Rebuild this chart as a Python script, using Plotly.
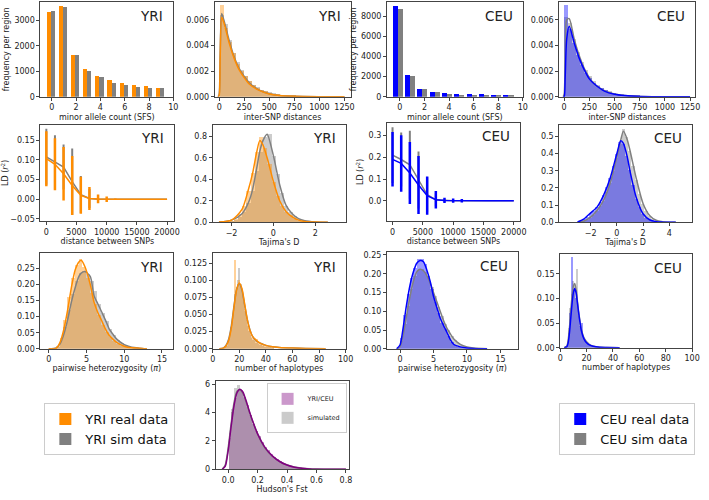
import plotly.graph_objects as go

W, H = 709, 500
FONT = "DejaVu Sans"

ORANGE = "#ff8c00"
GRAY = "#808080"
BLUE = "#0000ff"
PURPLE = "#800080"

# ---------------- data ----------------
# site frequency spectrum
sfs_count = [0, 1, 2, 3, 4, 5, 6, 7, 8, 9]
sfs_yri_real = [3340, 3545, 1630, 1110, 815, 645, 530, 480, 415, 360]
sfs_yri_sim = [3360, 3530, 1630, 1020, 765, 560, 465, 390, 350, 335]
sfs_ceu_real = [8990, 2190, 815, 490, 425, 330, 295, 260, 230, 230]
sfs_ceu_sim = [8725, 2025, 815, 490, 295, 230, 200, 165, 165, 160]

# inter-SNP distances (histogram, bin width 40)
isnp_bins = [20, 60, 100, 140, 180, 220, 260, 300, 340, 380, 420, 460,
             500, 540, 580, 620, 660, 700, 740, 780, 820, 860, 900, 940]
isnp_yri_real = [0.0072, 0.0054, 0.0043, 0.0034, 0.0026, 0.0020, 0.0016, 0.0012,
                 0.00093, 0.00072, 0.00056, 0.00043, 0.00033, 0.00026, 0.0002, 0.00016,
                 0.00012, 0.0001, 0.00008, 0.00006, 0.00005, 0.00004, 0.00003, 0.00002]
isnp_yri_sim = [0.0064, 0.0057, 0.0044, 0.0034, 0.0027, 0.0021, 0.0016, 0.0012,
                0.00095, 0.00074, 0.00057, 0.00044, 0.00034, 0.00027, 0.00021, 0.00016,
                0.00013, 0.0001, 0.00008, 0.00006, 0.00005, 0.00004, 0.00003, 0.00002]
isnp_ceu_real = [0.0072, 0.0053, 0.0042, 0.0033, 0.0025, 0.0019, 0.0015, 0.0011,
                 0.00085, 0.00066, 0.0005, 0.00038, 0.0003, 0.00023, 0.00018, 0.00014,
                 0.00011, 0.00009, 0.00007, 0.00005, 0.00004, 0.00003, 0.00002, 0.00002]
isnp_ceu_sim = [0.0062, 0.0058, 0.0045, 0.0035, 0.0027, 0.0021, 0.0016, 0.0012,
                0.00092, 0.0007, 0.00054, 0.00042, 0.00032, 0.00025, 0.0002, 0.00015,
                0.00012, 0.0001, 0.00008, 0.00006, 0.00005, 0.00004, 0.00003, 0.00002]
isnp_kde_x = [-10, 0, 10, 25, 50, 100, 150, 200, 250, 300, 400, 500, 600, 750, 1000, 1250]
isnp_kde_yri_real = [0, 0.0001, 0.003, 0.0062, 0.0057, 0.0042, 0.0030, 0.0021, 0.0015,
                     0.0010, 0.0005, 0.00022, 0.0001, 0.00004, 0.00001, 0]
isnp_kde_yri_sim = [0, 0.0002, 0.0035, 0.0065, 0.0059, 0.0044, 0.0031, 0.0022, 0.0016,
                    0.0011, 0.00052, 0.00024, 0.00011, 0.00004, 0.00001, 0]
isnp_kde_ceu_real = [0, 0.0, 0.0015, 0.0045, 0.0055, 0.0042, 0.0030, 0.0021, 0.0014,
                     0.0010, 0.00045, 0.0002, 0.0001, 0.00003, 0.00001, 0]
isnp_kde_ceu_sim = [0, 0.0002, 0.003, 0.0060, 0.0061, 0.0045, 0.0032, 0.0022, 0.0015,
                    0.0010, 0.00048, 0.00022, 0.0001, 0.00003, 0.00001, 0]

# linkage disequilibrium vs distance
ld_dist = [0, 1429, 2857, 4286, 5714, 7143, 8571, 10000, 11429, 12857,
           14286, 15714, 17143, 18571, 20000]
ld_yri_real = [0.103, 0.089, 0.065, 0.035, 0.010, 0.002, 0.001, 0, 0, 0, 0, 0, 0, 0, 0]
ld_yri_real_sd = [0.070, 0.066, 0.068, 0.075, 0.047, 0.029, 0.011, 0.007, 0.002, 0, 0, 0, 0, 0, 0]
ld_yri_sim = [0.108, 0.095, 0.082, 0.045, 0.012, 0.002, 0, 0, 0, 0, 0, 0, 0, 0, 0]
ld_yri_sim_sd = [0.071, 0.068, 0.057, 0.084, 0.047, 0.024, 0.004, 0, 0, 0, 0, 0, 0, 0, 0]
ld_ceu_real = [0.191, 0.172, 0.128, 0.073, 0.024, 0.005, 0.002, 0.001, 0.001, 0, 0, 0, 0, 0, 0]
ld_ceu_real_sd = [0.125, 0.13, 0.142, 0.133, 0.088, 0.04, 0.012, 0.01, 0.008, 0, 0, 0, 0, 0, 0]
ld_ceu_sim = [0.21, 0.19, 0.166, 0.096, 0.028, 0.005, 0.001, 0, 0, 0, 0, 0, 0, 0, 0]
ld_ceu_sim_sd = [0.128, 0.124, 0.156, 0.131, 0.08, 0.03, 0.005, 0, 0, 0, 0, 0, 0, 0, 0]

# Tajima's D
tajd_yri_bins = [-2.4, -2.2, -2.0, -1.8, -1.6, -1.4, -1.2, -1.0, -0.8, -0.6, -0.4, -0.2, 0.0,
                 0.2, 0.4, 0.6, 0.8, 1.0, 1.2, 1.4, 1.6, 1.8, 2.0, 2.2, 2.4]
tajd_yri_real = [0.005, 0.01, 0.02, 0.04, 0.08, 0.16, 0.3, 0.46, 0.66, 0.8, 0.7, 0.55, 0.38,
                 0.25, 0.16, 0.1, 0.07, 0.04, 0.02, 0.012, 0.007, 0.004, 0.002, 0.001, 0]
tajd_yri_sim = [0.003, 0.006, 0.015, 0.03, 0.055, 0.1, 0.18, 0.3, 0.48, 0.66, 0.8, 0.83, 0.62,
                0.45, 0.28, 0.16, 0.1, 0.06, 0.035, 0.02, 0.012, 0.006, 0.003, 0.002, 0.001]
tajd_yri_kde_x = [-2.6, -2.0, -1.5, -1.2, -1.0, -0.8, -0.65, -0.5, -0.3, 0.0, 0.3, 0.6,
                  0.9, 1.2, 1.5, 2.0, 2.6]
tajd_yri_kde_real = [0.003, 0.02, 0.12, 0.3, 0.45, 0.65, 0.76, 0.72, 0.6, 0.38, 0.2, 0.1,
                     0.05, 0.02, 0.008, 0.002, 0]
tajd_yri_kde_sim = [0.002, 0.02, 0.08, 0.18, 0.3, 0.5, 0.66, 0.76, 0.82, 0.62, 0.35, 0.16,
                    0.08, 0.035, 0.015, 0.004, 0]
tajd_ceu_bins = [-3.0, -2.75, -2.5, -2.25, -2.0, -1.75, -1.5, -1.25, -1.0, -0.75, -0.5, -0.25,
                 0.0, 0.25, 0.5, 0.75, 1.0, 1.25, 1.5, 1.75, 2.0, 2.25, 2.5, 2.75, 3.0, 3.25,
                 3.5, 3.75, 4.0]
tajd_ceu_real = [0.003, 0.01, 0.02, 0.035, 0.055, 0.07, 0.09, 0.12, 0.16, 0.21, 0.26, 0.33,
                 0.40, 0.47, 0.46, 0.39, 0.31, 0.22, 0.14, 0.09, 0.05, 0.03, 0.015, 0.008,
                 0.004, 0.002, 0.001, 0, 0]
tajd_ceu_sim = [0.001, 0.004, 0.008, 0.017, 0.03, 0.048, 0.07, 0.1, 0.13, 0.18, 0.23, 0.3,
                0.38, 0.46, 0.545, 0.5, 0.42, 0.33, 0.25, 0.17, 0.11, 0.07, 0.04, 0.025,
                0.013, 0.007, 0.004, 0.002, 0.001]
tajd_ceu_kde_x = [-3.0, -2.5, -2.0, -1.5, -1.0, -0.5, 0.0, 0.3, 0.5, 0.8, 1.0, 1.5, 2.0,
                  2.5, 3.0, 3.5, 4.0, 4.5]
tajd_ceu_kde_real = [0.002, 0.02, 0.055, 0.09, 0.16, 0.26, 0.4, 0.475, 0.46, 0.38, 0.3,
                     0.14, 0.05, 0.015, 0.004, 0.001, 0, 0]
tajd_ceu_kde_sim = [0.001, 0.008, 0.03, 0.07, 0.13, 0.23, 0.38, 0.48, 0.53, 0.48, 0.42,
                    0.25, 0.11, 0.04, 0.012, 0.004, 0.001, 0]

# pairwise heterozygosity (pi)
pi_yri_bins = [0.75, 1.25, 1.75, 2.25, 2.75, 3.25, 3.75, 4.25, 4.75, 5.25, 5.75, 6.25,
               6.75, 7.25, 7.75, 8.25, 8.75, 9.25, 9.75, 10.25, 10.75, 11.25, 11.75, 12.25]
pi_yri_real = [0.001, 0.008, 0.035, 0.09, 0.16, 0.22, 0.262, 0.278, 0.255, 0.22, 0.175, 0.138,
               0.105, 0.075, 0.052, 0.038, 0.025, 0.016, 0.01, 0.006, 0.004, 0.002, 0.002, 0.001]
pi_yri_sim = [0.001, 0.006, 0.028, 0.068, 0.12, 0.17, 0.21, 0.235, 0.242, 0.232, 0.21, 0.18,
              0.14, 0.112, 0.088, 0.062, 0.042, 0.028, 0.018, 0.011, 0.007, 0.004, 0.002, 0.001]
pi_yri_kde_x = [0, 1, 1.5, 2, 2.5, 3, 3.5, 4, 4.3, 4.8, 5.5, 6, 6.5, 7, 7.5, 8, 8.5, 9,
                10, 11, 12, 13]
pi_yri_kde_real = [0, 0.002, 0.02, 0.06, 0.12, 0.19, 0.245, 0.27, 0.275, 0.255, 0.2, 0.145,
                   0.113, 0.088, 0.062, 0.042, 0.03, 0.02, 0.008, 0.003, 0.002, 0]
pi_yri_kde_sim = [0, 0.003, 0.015, 0.045, 0.09, 0.145, 0.19, 0.225, 0.235, 0.24, 0.225,
                  0.165, 0.14, 0.115, 0.09, 0.062, 0.045, 0.03, 0.013, 0.005, 0.002, 0]
pi_ceu_bins = [-0.25, 0.25, 0.75, 1.25, 1.75, 2.25, 2.75, 3.25, 3.75, 4.25, 4.75, 5.25, 5.75,
               6.25, 6.75, 7.25, 7.75, 8.25, 8.75, 9.25, 9.75, 10.25, 10.75, 11.25, 11.75]
pi_ceu_real = [0.002, 0.03, 0.09, 0.145, 0.19, 0.215, 0.24, 0.24, 0.225, 0.195, 0.16, 0.125,
               0.095, 0.07, 0.052, 0.035, 0.018, 0.01, 0.006, 0.004, 0.002, 0.001, 0.001, 0, 0]
pi_ceu_sim = [0.001, 0.02, 0.065, 0.115, 0.16, 0.195, 0.21, 0.212, 0.205, 0.19, 0.165, 0.14,
              0.112, 0.088, 0.067, 0.05, 0.035, 0.023, 0.016, 0.01, 0.006, 0.004, 0.002,
              0.001, 0.001]
pi_ceu_kde_x = [-0.5, 0, 0.5, 1, 1.5, 2, 2.5, 3, 3.5, 4, 4.5, 5, 5.5, 6, 6.5, 7, 7.5, 8,
                9, 10, 11, 13]
pi_ceu_kde_real = [0, 0.01, 0.06, 0.12, 0.17, 0.205, 0.228, 0.235, 0.232, 0.21, 0.18, 0.14,
                   0.11, 0.082, 0.062, 0.044, 0.025, 0.012, 0.005, 0.002, 0.001, 0]
pi_ceu_kde_sim = [0, 0.005, 0.04, 0.09, 0.14, 0.18, 0.205, 0.212, 0.208, 0.195, 0.175,
                  0.15, 0.125, 0.1, 0.075, 0.055, 0.04, 0.027, 0.012, 0.005, 0.002, 0]

# number of haplotypes
hap_yri_bins = [8, 9, 10, 11, 12, 13, 14, 15, 16, 17, 18, 19, 20, 21, 22, 23, 24, 25, 26,
                27, 28, 29, 30, 31, 32, 33, 34, 35, 36, 37, 38, 39, 40, 41, 42, 43, 44, 45]
hap_yri_real = [0, 0.001, 0.002, 0.004, 0.01, 0.018, 0.028, 0.04, 0.058, 0.13, 0.088, 0.095,
                0.1, 0.092, 0.085, 0.07, 0.058, 0.045, 0.035, 0.03, 0.022, 0.018, 0.016,
                0.014, 0.012, 0.015, 0.01, 0.008, 0.007, 0.006, 0.005, 0.004, 0.004, 0.003,
                0.003, 0.002, 0.002, 0.002]
hap_yri_sim = [0, 0.001, 0.003, 0.006, 0.012, 0.02, 0.032, 0.045, 0.062, 0.08, 0.09, 0.1,
               0.118, 0.095, 0.082, 0.068, 0.055, 0.042, 0.033, 0.026, 0.02, 0.016, 0.013,
               0.011, 0.009, 0.008, 0.007, 0.006, 0.005, 0.004, 0.004, 0.003, 0.003, 0.002,
               0.002, 0.002, 0.001, 0.001]
hap_yri_kde_x = [5, 8, 10, 12, 14, 16, 18, 20, 22, 24, 26, 28, 30, 33, 36, 40, 45, 50, 60,
                 70, 85]
hap_yri_kde_real = [0, 0.001, 0.004, 0.012, 0.03, 0.06, 0.086, 0.096, 0.088, 0.066, 0.043,
                    0.027, 0.018, 0.012, 0.008, 0.005, 0.003, 0.002, 0.001, 0.0005, 0]
hap_yri_kde_sim = [0, 0.001, 0.005, 0.014, 0.033, 0.062, 0.087, 0.095, 0.086, 0.064, 0.043,
                   0.028, 0.018, 0.011, 0.008, 0.005, 0.003, 0.002, 0.001, 0.0005, 0]
hap_ceu_bins = [4, 5, 6, 7, 8, 9, 10, 11, 12, 13, 14, 15, 16, 17, 18, 19, 20, 21, 22, 23,
                24, 25, 26, 27, 28, 29, 30]
hap_ceu_real = [0, 0.002, 0.008, 0.03, 0.07, 0.183, 0.11, 0.12, 0.1, 0.085, 0.065, 0.045,
                0.035, 0.05, 0.02, 0.015, 0.012, 0.009, 0.007, 0.005, 0.004, 0.003, 0.002,
                0.002, 0.001, 0.001, 0.001]
hap_ceu_sim = [0, 0.003, 0.012, 0.04, 0.08, 0.11, 0.135, 0.125, 0.115, 0.16, 0.07, 0.05,
               0.038, 0.028, 0.02, 0.015, 0.012, 0.009, 0.007, 0.005, 0.004, 0.003, 0.002,
               0.002, 0.001, 0.001, 0.001]
hap_ceu_kde_x = [3, 5, 6, 7, 8, 9, 10, 11, 12, 13, 14, 16, 18, 20, 22, 25, 30, 35, 45]
hap_ceu_kde_real = [0, 0.002, 0.01, 0.03, 0.06, 0.09, 0.112, 0.12, 0.112, 0.092, 0.07,
                    0.035, 0.018, 0.01, 0.006, 0.003, 0.001, 0.0005, 0]
hap_ceu_kde_sim = [0, 0.003, 0.015, 0.04, 0.075, 0.105, 0.125, 0.13, 0.118, 0.095, 0.072,
                   0.038, 0.02, 0.012, 0.007, 0.003, 0.001, 0.0005, 0]

# Hudson's Fst
fst_bins = [0.01, 0.03, 0.05, 0.07, 0.09, 0.11, 0.13, 0.15, 0.17, 0.19, 0.21, 0.23, 0.25,
            0.27, 0.29, 0.31, 0.33, 0.35, 0.37, 0.39, 0.41, 0.43, 0.45, 0.47, 0.49, 0.51,
            0.53, 0.55]
fst_real = [2.2, 4.0, 5.0, 5.6, 5.6, 5.1, 4.5, 3.8, 3.2, 2.7, 2.3, 1.9, 1.55, 1.3, 1.05,
            0.85, 0.68, 0.55, 0.42, 0.32, 0.25, 0.18, 0.13, 0.09, 0.06, 0.04, 0.02, 0.01]
fst_sim = [2.5, 4.2, 5.7, 5.9, 5.5, 5.0, 4.4, 3.8, 3.2, 2.7, 2.25, 1.85, 1.5, 1.25, 1.0,
           0.82, 0.65, 0.52, 0.4, 0.3, 0.23, 0.17, 0.13, 0.1, 0.07, 0.05, 0.03, 0.02]
fst_kde_x = [-0.04, -0.02, 0, 0.02, 0.04, 0.06, 0.08, 0.1, 0.12, 0.15, 0.2, 0.25, 0.3,
             0.35, 0.4, 0.45, 0.5, 0.55, 0.6, 0.7, 0.8]
fst_kde_real = [0, 0.2, 1.3, 3.0, 4.5, 5.4, 5.65, 5.45, 4.9, 3.9, 2.5, 1.55, 0.95, 0.55,
                0.3, 0.15, 0.07, 0.03, 0.01, 0, 0]
fst_kde_sim = [0, 0.3, 1.5, 3.2, 4.7, 5.5, 5.6, 5.35, 4.8, 3.85, 2.5, 1.5, 0.92, 0.55,
               0.3, 0.16, 0.08, 0.04, 0.02, 0.005, 0]

# ---------------- layout helpers ----------------
# panel frames in pixels: left, right, top, bottom
boxes = {
    1: (38, 173, 1, 97), 2: (215, 353, 1, 97), 3: (390, 528, 1, 97), 4: (565, 703, 1, 97),
    5: (38, 174, 125, 223), 6: (213, 348, 125, 224), 7: (390, 525, 123, 223), 8: (565, 700, 125, 224),
    9: (38, 173, 255, 352), 10: (213, 348, 255, 352), 11: (390, 523, 254, 352), 12: (566, 700, 256, 351),
    13: (216, 351, 385, 474),
}

fig = go.Figure()


def ax(n):
    return ("x" if n == 1 else f"x{n}"), ("y" if n == 1 else f"y{n}")


def hist(n, x, y, width, color, name=None, legend=None):
    xa, ya = ax(n)
    fig.add_trace(go.Bar(x=x, y=y, width=width, marker=dict(color=color, line_width=0),
                         opacity=0.4, xaxis=xa, yaxis=ya, name=name,
                         showlegend=name is not None, legend=legend))


def kde(n, x, y, color):
    xa, ya = ax(n)
    fig.add_trace(go.Scatter(x=x, y=y, mode="lines", xaxis=xa, yaxis=ya, showlegend=False,
                             line=dict(color=color, width=1.5, shape="spline", smoothing=0.7)))


def ld(n, y, sd, color, thick):
    xa, ya = ax(n)
    fig.add_trace(go.Scatter(x=ld_dist, y=y, mode="lines", xaxis=xa, yaxis=ya, showlegend=False,
                             line=dict(color=color, width=1.5),
                             error_y=dict(type="data", array=sd, color=color,
                                          thickness=thick, width=0)))


# SFS bars (these carry the big legends)
fig.add_trace(go.Bar(x=sfs_count, y=sfs_yri_real, width=0.34, offset=-0.38,
                     marker=dict(color=ORANGE, line_width=0), name="YRI real data", legend="legend"))
fig.add_trace(go.Bar(x=sfs_count, y=sfs_yri_sim, width=0.34, offset=-0.04,
                     marker=dict(color=GRAY, line_width=0), name="YRI sim data", legend="legend"))
fig.add_trace(go.Bar(x=sfs_count, y=sfs_ceu_real, width=0.41, offset=-0.58, xaxis="x3", yaxis="y3",
                     marker=dict(color=BLUE, line_width=0), name="CEU real data", legend="legend2"))
fig.add_trace(go.Bar(x=sfs_count, y=sfs_ceu_sim, width=0.41, offset=-0.17, xaxis="x3", yaxis="y3",
                     marker=dict(color=GRAY, line_width=0), name="CEU sim data", legend="legend2"))

# inter-SNP distances
hist(2, isnp_bins, isnp_yri_sim, 40, GRAY)
hist(2, isnp_bins, isnp_yri_real, 40, ORANGE)
kde(2, isnp_kde_x, isnp_kde_yri_sim, GRAY)
kde(2, isnp_kde_x, isnp_kde_yri_real, ORANGE)
hist(4, isnp_bins, isnp_ceu_sim, 40, GRAY)
hist(4, isnp_bins, isnp_ceu_real, 40, BLUE)
kde(4, isnp_kde_x, isnp_kde_ceu_sim, GRAY)
kde(4, isnp_kde_x, isnp_kde_ceu_real, BLUE)

# LD
ld(5, ld_yri_sim, ld_yri_sim_sd, GRAY, 2)
ld(5, ld_yri_real, ld_yri_real_sd, ORANGE, 2.5)
ld(7, ld_ceu_sim, ld_ceu_sim_sd, GRAY, 2)
ld(7, ld_ceu_real, ld_ceu_real_sd, BLUE, 2.5)

# Tajima's D
hist(6, tajd_yri_bins, tajd_yri_sim, 0.2, GRAY)
hist(6, tajd_yri_bins, tajd_yri_real, 0.2, ORANGE)
kde(6, tajd_yri_kde_x, tajd_yri_kde_sim, GRAY)
kde(6, tajd_yri_kde_x, tajd_yri_kde_real, ORANGE)
hist(8, tajd_ceu_bins, tajd_ceu_sim, 0.25, GRAY)
hist(8, tajd_ceu_bins, tajd_ceu_real, 0.25, BLUE)
kde(8, tajd_ceu_kde_x, tajd_ceu_kde_sim, GRAY)
kde(8, tajd_ceu_kde_x, tajd_ceu_kde_real, BLUE)

# pi
hist(9, pi_yri_bins, pi_yri_sim, 0.5, GRAY)
hist(9, pi_yri_bins, pi_yri_real, 0.5, ORANGE)
kde(9, pi_yri_kde_x, pi_yri_kde_sim, GRAY)
kde(9, pi_yri_kde_x, pi_yri_kde_real, ORANGE)
hist(11, pi_ceu_bins, pi_ceu_sim, 0.5, GRAY)
hist(11, pi_ceu_bins, pi_ceu_real, 0.5, BLUE)
kde(11, pi_ceu_kde_x, pi_ceu_kde_sim, GRAY)
kde(11, pi_ceu_kde_x, pi_ceu_kde_real, BLUE)

# haplotypes
hist(10, hap_yri_bins, hap_yri_sim, 1, GRAY)
hist(10, hap_yri_bins, hap_yri_real, 1, ORANGE)
kde(10, hap_yri_kde_x, hap_yri_kde_sim, GRAY)
kde(10, hap_yri_kde_x, hap_yri_kde_real, ORANGE)
hist(12, hap_ceu_bins, hap_ceu_sim, 1, GRAY)
hist(12, hap_ceu_bins, hap_ceu_real, 1, BLUE)
kde(12, hap_ceu_kde_x, hap_ceu_kde_sim, GRAY)
kde(12, hap_ceu_kde_x, hap_ceu_kde_real, BLUE)

# Fst
hist(13, fst_bins, fst_real, 0.02, PURPLE, "YRI/CEU", "legend3")
hist(13, fst_bins, fst_sim, 0.02, GRAY, "simulated", "legend3")
kde(13, fst_kde_x, fst_kde_sim, GRAY)
kde(13, fst_kde_x, fst_kde_real, PURPLE)

# axes: x range, y range, x ticks, y ticks, x fmt, y fmt, x title, y title
LD_T = "LD (<i>r</i><sup>2</sup>)"
PI_T = "pairwise heterozygosity (<i>π</i>)"
axes = {
    1: ([-0.93, 10], [0, 3720], [0, 2, 4, 6, 8, 10], [0, 1000, 2000, 3000], "d", "d",
        "minor allele count (SFS)", "frequency per region"),
    2: ([-45, 1310], [0, 0.0074], [0, 250, 500, 750, 1000, 1250], [0, 0.002, 0.004, 0.006],
        "d", ".3f", "inter-SNP distances", ""),
    3: ([-1.05, 10], [0, 9400], [0, 2, 4, 6, 8, 10], [0, 2000, 4000, 6000, 8000], "d", "d",
        "minor allele count (SFS)", "frequency per region"),
    4: ([-49, 1300], [0, 0.0074], [0, 250, 500, 750, 1000, 1250], [0, 0.002, 0.004, 0.006],
        "d", ".3f", "inter-SNP distances", ""),
    5: ([-980, 21200], [-0.056, 0.19], [0, 5000, 10000, 15000, 20000],
        [-0.05, 0, 0.05, 0.1, 0.15], "d", ".2f", "distance between SNPs", LD_T),
    6: ([-2.9, 3.45], [0, 0.91], [-2, 0, 2], [0, 0.2, 0.4, 0.6, 0.8], "d", ".1f",
        "Tajima's D", ""),
    7: ([-920, 21000], [-0.094, 0.36], [0, 5000, 10000, 15000, 20000], [0, 0.1, 0.2, 0.3],
        "d", ".1f", "distance between SNPs", LD_T),
    8: ([-4.4, 5.75], [0, 0.57], [-2, 0, 2, 4], [0, 0.1, 0.2, 0.3, 0.4, 0.5], "d", ".1f",
        "Tajima's D", ""),
    9: ([-1.1, 16.5], [0, 0.298], [0, 5, 10, 15], [0, 0.05, 0.1, 0.15, 0.2, 0.25], "d", ".2f",
        PI_T, ""),
    10: ([0, 100], [0, 0.14], [0, 20, 40, 60, 80, 100], [0, 0.025, 0.05, 0.075, 0.1, 0.125],
         "d", ".3f", "number of haplotypes", ""),
    11: ([-1.95, 17.6], [0, 0.258], [0, 5, 10, 15], [0, 0.05, 0.1, 0.15, 0.2, 0.25], "d", ".2f",
         PI_T, ""),
    12: ([0, 100], [0, 0.19], [0, 20, 40, 60, 80, 100], [0, 0.05, 0.1, 0.15], "d", ".2f",
         "number of haplotypes", ""),
    13: ([-0.085, 0.818], [0, 6.2], [0, 0.2, 0.4, 0.6, 0.8], [0, 2, 4, 6], ".1f", "d",
         "Hudson's Fst", ""),
}

tick_font = dict(family=FONT, size=8, color="#222")
common = dict(showline=True, linecolor="#444", linewidth=1, mirror=True, ticks="outside",
              ticklen=3, tickcolor="#444", tickwidth=1, showgrid=False, zeroline=False,
              tickfont=tick_font)

layout_axes = {}
annotations = []
for n, (xr, yr, xt, yt, xf, yf, xtitle, ytitle) in axes.items():
    l, r, t, b = boxes[n]
    xname = "xaxis" if n == 1 else f"xaxis{n}"
    yname = "yaxis" if n == 1 else f"yaxis{n}"
    xa, ya = ax(n)
    layout_axes[xname] = dict(common, domain=[l / W, r / W], range=xr, tickvals=xt,
                              tickformat=xf, anchor=ya,
                              title=dict(text=xtitle, font=tick_font, standoff=2))
    layout_axes[yname] = dict(common, domain=[1 - b / H, 1 - t / H], range=yr, tickvals=yt,
                              tickformat=yf, anchor=xa,
                              title=dict(text=ytitle, font=tick_font, standoff=3))
    if n != 13:
        pop = "YRI" if n in (1, 2, 5, 6, 9, 10) else "CEU"
        annotations.append(dict(text=pop, xref="paper", yref="paper", x=(r - 8) / W,
                                y=1 - (t + 4) / H, xanchor="right", yanchor="top",
                                showarrow=False, font=dict(family=FONT, size=13.5, color="#222")))

big_legend = dict(font=dict(family=FONT, size=13, color="#111"), bgcolor="white",
                  bordercolor="#ccc", borderwidth=1, xanchor="left", yanchor="top",
                  itemwidth=30, tracegroupgap=2)

fig.update_layout(
    width=W, height=H, margin=dict(l=0, r=0, t=0, b=0),
    plot_bgcolor="white", paper_bgcolor="white",
    barmode="overlay", bargap=0,
    font=dict(family=FONT, size=8, color="#222"),
    annotations=annotations,
    legend=dict(big_legend, x=42 / W, y=1 - 407 / H),
    legend2=dict(big_legend, x=565 / W, y=1 - 407 / H),
    legend3=dict(font=dict(family=FONT, size=6.5, color="#222"), bgcolor="white",
                 bordercolor="#ccc", borderwidth=1, xanchor="right", yanchor="top",
                 x=349 / W, y=1 - 387 / H, itemwidth=30),
    **layout_axes,
)

# the page body has a default 8px margin; drop it so the figure sits at the corner
fig.write_html("out.html", config={"displayModeBar": False},
               post_script="document.body.style.margin='0';")
